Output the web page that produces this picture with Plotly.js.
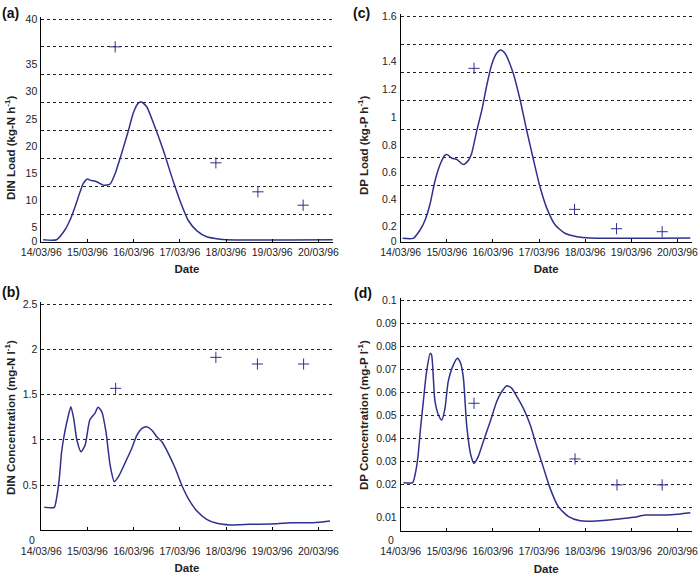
<!DOCTYPE html>
<html>
<head>
<meta charset="utf-8">
<script src="https://cdn.plot.ly/plotly-3.0.1.min.js"></script>
<style>html,body{margin:0;padding:0;background:#fff}#chart{width:700px;height:580px}</style>
</head>
<body>
<div id="chart"></div>
<script>
// ---- Data (time in days after 14/03/96 00:00) ----
// (a) DIN load, kg-N/h
const dinLoadModelDays = [0.04,0.33,0.51,0.62,0.73,0.84,0.91,1.0,1.05,1.2,1.34,1.49,1.6,1.74,1.89,1.99,2.1,2.17,2.28,2.43,2.64,2.86,3.04,3.18,3.37,3.58,3.87,4.0,6.32];
const dinLoadModel     = [0.4,0.4,2.15,3.9,6.3,9.0,10.5,11.3,11.1,10.8,10.2,10.4,12.3,15.9,20.1,23.1,24.9,25.1,24.3,21.3,16.5,10.8,6.6,3.9,2.0,0.95,0.5,0.4,0.4];
const dinLoadObsDays   = [1.6,3.78,4.69,5.67];
const dinLoadObs       = [35.0,14.2,9.0,6.6];

// (b) DIN concentration, mg-N/l
const dinConcModelDays = [0.065,0.28,0.33,0.39,0.44,0.51,0.58,0.64,0.70,0.77,0.86,0.95,1.05,1.16,1.23,1.31,1.40,1.49,1.58,1.67,1.81,1.96,2.07,2.18,2.28,2.39,2.50,2.61,2.75,2.90,3.04,3.18,3.37,3.58,3.80,4.09,4.52,5.10,5.39,5.89,6.25];
const dinConcModel     = [0.253,0.253,0.353,0.574,0.868,1.09,1.256,1.367,1.24,0.998,0.868,0.943,1.22,1.293,1.36,1.311,1.09,0.72,0.537,0.592,0.74,0.906,1.053,1.127,1.145,1.109,1.035,0.979,0.851,0.685,0.50,0.353,0.212,0.12,0.076,0.058,0.065,0.072,0.083,0.083,0.102];
const dinConcObsDays   = [1.61,3.78,4.68,5.68];
const dinConcObs       = [1.57,1.913,1.839,1.839];

// (c) DP load, kg-P/h
const dpLoadModelDays = [0.04,0.27,0.42,0.53,0.64,0.74,0.85,0.96,1.01,1.11,1.21,1.36,1.47,1.54,1.65,1.76,1.86,1.97,2.08,2.17,2.26,2.44,2.59,2.73,2.88,3.02,3.17,3.35,3.56,3.82,4.11,6.28];
const dpLoadModel     = [0.028,0.028,0.087,0.158,0.276,0.43,0.547,0.617,0.62,0.594,0.587,0.55,0.58,0.63,0.79,0.936,1.10,1.254,1.337,1.36,1.337,1.195,1.006,0.794,0.582,0.393,0.24,0.122,0.064,0.04,0.03,0.03];
const dpLoadObsDays   = [1.59,3.77,4.68,5.67];
const dpLoadObs       = [1.23,0.233,0.096,0.075];

// (d) DP concentration, mg-P/l
const dpConcModelDays = [0.06,0.26,0.31,0.37,0.43,0.49,0.56,0.64,0.67,0.74,0.82,0.89,0.96,1.03,1.14,1.23,1.30,1.36,1.43,1.52,1.59,1.68,1.79,1.94,2.08,2.19,2.30,2.41,2.52,2.66,2.81,2.95,3.10,3.24,3.42,3.64,3.89,4.25,4.69,5.05,5.30,5.77,5.99,6.28];
const dpConcModel     = [0.0209,0.0209,0.0242,0.0315,0.0445,0.0561,0.0691,0.0771,0.0764,0.0568,0.0503,0.0481,0.0532,0.0648,0.072,0.075,0.0728,0.0663,0.046,0.0329,0.0293,0.0322,0.0387,0.0474,0.0561,0.0604,0.063,0.0619,0.0583,0.0532,0.046,0.0365,0.0271,0.0184,0.0104,0.0061,0.0043,0.0042,0.005,0.0058,0.0068,0.0068,0.0071,0.0078];
const dpConcObsDays   = [1.59,3.78,4.69,5.67];
const dpConcObs       = [0.0554,0.0312,0.0199,0.0199];

// ---- Axis tick labels (values where the printed labels sit, and their text) ----
const dinLoadTickVals = [40,31.9,27.1,22.0,17.2,12.3,7.5,2.6,0.2];
const dinLoadTickText = ['40','35','30','25','20','15','10','5','0'];
const dinConcTickVals = [2.5,2.0,1.5,1.0,0.5];
const dinConcTickText = ['2.5','2','1.5','1','0.5'];
const dpLoadTickVals  = [1.6,1.277,1.082,0.884,0.688,0.497,0.304,0.110,0.01];
const dpLoadTickText  = ['1.6','1.4','1.2','1','0.8','0.6','0.4','0.2','0'];
const dpConcTickVals  = [0.1,0.09,0.08,0.07,0.06,0.05,0.04,0.03,0.02,0.0058];
const dpConcTickText  = ['0.1','0.09','0.08','0.07','0.06','0.05','0.04','0.03','0.02','0.01'];

// ---- titles ----
const yTitles = ['DIN Load (kg-N h<sup>-1</sup>)', 'DIN Concentration (mg-N l<sup>-1</sup>)',
                 'DP Load (kg-P h<sup>-1</sup>)', 'DP Concentration (mg-P l<sup>-1</sup>)'];
const panelLetters = ['(a)', '(b)', '(c)', '(d)'];

// ---- helpers ----
const START = Date.UTC(1996,2,14);
function dayToDate(d){ return new Date(START + d*86400000).toISOString().slice(0,19).replace('T',' '); }
const toDates = a => a.map(dayToDate);

const LINE = '#30308e';
const FONT = 'Liberation Sans, Arial, sans-serif';

function lineTrace(xs, ys, xa, ya){
  return {x: toDates(xs), y: ys, xaxis: xa, yaxis: ya, type:'scatter', mode:'lines',
    line:{color: LINE, width:1.5, shape:'spline', smoothing:0.6}, hoverinfo:'x+y'};
}
function obsTrace(xs, ys, xa, ya){
  return {x: toDates(xs), y: ys, xaxis: xa, yaxis: ya, type:'scatter', mode:'markers',
    marker:{symbol:'cross-thin', size:8, color: LINE, line:{color: LINE, width:1}}, hoverinfo:'x+y'};
}
function emptyTrace(xa, ya){
  return {x: [], y: [], xaxis: xa, yaxis: ya, type:'scatter', mode:'lines', hoverinfo:'skip'};
}

const data = [
  lineTrace(dinLoadModelDays, dinLoadModel, 'x', 'y'),
  obsTrace(dinLoadObsDays, dinLoadObs, 'x', 'y'),
  lineTrace(dinConcModelDays, dinConcModel, 'x2', 'y2'),
  obsTrace(dinConcObsDays, dinConcObs, 'x2', 'y2'),
  lineTrace(dpLoadModelDays, dpLoadModel, 'x3', 'y3'),
  obsTrace(dpLoadObsDays, dpLoadObs, 'x3', 'y3'),
  lineTrace(dpConcModelDays, dpConcModel, 'x4', 'y4'),
  obsTrace(dpConcObsDays, dpConcObs, 'x4', 'y4'),
  emptyTrace('x', 'y5'), emptyTrace('x2', 'y6'), emptyTrace('x3', 'y7'), emptyTrace('x4', 'y8')
];

const xRange = [dayToDate(0), dayToDate(6.31)];
function xAxis(domain, anchor, labelOff){
  return {domain: domain, anchor: anchor, type:'date', range: xRange,
    tick0: dayToDate(0), dtick: 86400000, tickformat:'%d/%m/%y',
    ticks:'inside', ticklen:3, tickcolor:'#000', tickwidth:1,
    showline:true, linecolor:'#000', linewidth:1, showgrid:false, zeroline:false,
    ticklabelstandoff: labelOff,
    tickfont:{family: FONT, size:10.5, color:'#222'},
    title:{text:'Date', font:{family: FONT, size:11.5, color:'#222', weight:'bold'}, standoff:8}};
}
function gridAxis(domain, anchor, range, dtick){
  return {domain: domain, anchor: anchor, range: range, dtick: dtick, tick0:0,
    showgrid:true, griddash:'dot', gridcolor:'#222', gridwidth:1,
    showticklabels:false, ticks:'', showline:true, linecolor:'#000', linewidth:1, zeroline:false};
}
function labelAxis(over, anchor, range, vals, text){
  return {overlaying: over, anchor: anchor, side:'left', range: range,
    tickmode:'array', tickvals: vals, ticktext: text, ticks:'', showgrid:false, zeroline:false, showline:false,
    tickfont:{family: FONT, size:10.5, color:'#222'}, ticklabelstandoff:3};
}

// plot areas in pixels (top edge lifted 2.5px so the top gridline is drawn)
const dxL = [41.3/700, 332.7/700];
const dxR = [400.7/700, 691.7/700];
const dyA = [1-242/580, 1-16.5/580];
const dyB = [1-530.2/580, 1-301.8/580];
const dyC = [1-242.3/580, 1-13.5/580];
const dyD = [1-530.7/580, 1-298.2/580];

const rA = [0, 40.448], rB = [0, 2.5277], rC = [0, 1.6177], rD = [0, 0.10109];

function yTitle(text, px, py){
  return {text: text, xref:'paper', yref:'paper', x: px/700, y: 1-py/580, xanchor:'center', yanchor:'middle',
    textangle:-90, showarrow:false, font:{family:FONT, size:11.5, color:'#222', weight:'bold'}};
}
function letter(text, px, py){
  return {text: text, xref:'paper', yref:'paper', x: px/700, y: 1-py/580, xanchor:'left', yanchor:'middle',
    showarrow:false, font:{family:FONT, size:14, color:'#111', weight:'bold'}};
}

const layout = {
  width:700, height:580, margin:{l:0,r:0,t:0,b:0},
  paper_bgcolor:'#fff', plot_bgcolor:'#fff', showlegend:false,
  font:{family: FONT, color:'#222'},
  xaxis: xAxis(dxL, 'y', 0),
  yaxis: gridAxis(dyA, 'x', rA, 5),
  xaxis2: xAxis(dxL, 'y2', 11),
  yaxis2: gridAxis(dyB, 'x2', rB, 0.5),
  xaxis3: xAxis(dxR, 'y3', 0),
  yaxis3: gridAxis(dyC, 'x3', rC, 0.2),
  xaxis4: xAxis(dxR, 'y4', 11),
  yaxis4: gridAxis(dyD, 'x4', rD, 0.01),
  yaxis5: labelAxis('y', 'x', rA, dinLoadTickVals, dinLoadTickText),
  yaxis6: labelAxis('y2', 'x2', rB, dinConcTickVals, dinConcTickText),
  yaxis7: labelAxis('y3', 'x3', rC, dpLoadTickVals, dpLoadTickText),
  yaxis8: labelAxis('y4', 'x4', rD, dpConcTickVals, dpConcTickText),
  annotations: [
    letter(panelLetters[0], 0, 13.5),
    letter(panelLetters[1], 0, 292),
    letter(panelLetters[2], 351, 13.5),
    letter(panelLetters[3], 352, 293),
    yTitle(yTitles[0], 10, 148),
    yTitle(yTitles[1], 10, 418),
    yTitle(yTitles[2], 363, 145),
    yTitle(yTitles[3], 363, 415),
    {text:'0', xref:'paper', yref:'y2', x:37/700, y:0, xanchor:'right', yanchor:'middle', yshift:-10, showarrow:false, font:{family:FONT, size:10.5, color:'#222'}},
    {text:'0', xref:'paper', yref:'y4', x:396/700, y:0, xanchor:'right', yanchor:'middle', yshift:-9, showarrow:false, font:{family:FONT, size:10.5, color:'#222'}}
  ]
};

Plotly.newPlot('chart', data, layout, {displayModeBar:false, staticPlot:true});
</script>
</body>
</html>
